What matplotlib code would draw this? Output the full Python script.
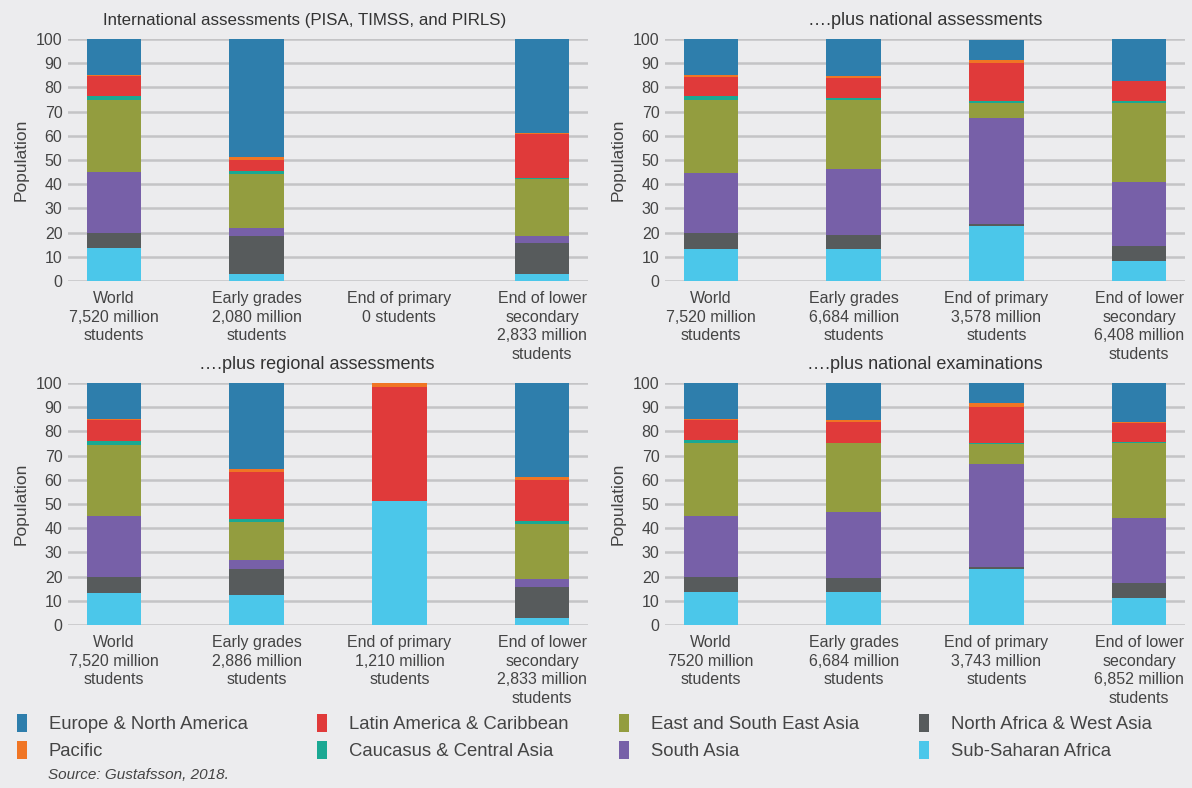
import matplotlib.pyplot as plt
from matplotlib.patches import Patch
import numpy as np

plt.rcParams['font.family'] = ['Liberation Sans', 'DejaVu Sans']

# regions, bottom of the stack first
regions = ["Sub-Saharan Africa", "North Africa & West Asia", "South Asia",
           "East and South East Asia", "Caucasus & Central Asia",
           "Latin America & Caribbean", "Pacific", "Europe & North America"]
colors = ["#4bc7ea", "#575b5c", "#7760a8", "#939d3f", "#1aa893",
          "#e03a3a", "#f07524", "#2e7eac"]

titles = ["International assessments (PISA, TIMSS, and PIRLS)",
          "\u2026.plus national assessments",
          "\u2026.plus regional assessments",
          "\u2026.plus national examinations"]

labels_intl = ["World\n7,520 million\nstudents", "Early grades\n2,080 million\nstudents",
               "End of primary\n0 students", "End of lower\nsecondary\n2,833 million\nstudents"]
labels_nat = ["World\n7,520 million\nstudents", "Early grades\n6,684 million\nstudents",
              "End of primary\n3,578 million\nstudents", "End of lower\nsecondary\n6,408 million\nstudents"]
labels_reg = ["World\n7,520 million\nstudents", "Early grades\n2,886 million\nstudents",
              "End of primary\n1,210 million\nstudents", "End of lower\nsecondary\n2,833 million\nstudents"]
labels_exam = ["World\n7520 million\nstudents", "Early grades\n6,684 million\nstudents",
               "End of primary\n3,743 million\nstudents", "End of lower\nsecondary\n6,852 million\nstudents"]

# shares (%) per category: World, Early grades, End of primary, End of lower secondary
# order of each row follows `regions`
intl = [[13.6, 6.2, 25.2, 29.8, 1.8, 8.1, 0.3, 15.0],
        [2.9, 15.7, 3.3, 22.3, 1.3, 4.5, 1.2, 48.8],
        [0, 0, 0, 0, 0, 0, 0, 0],
        [2.9, 12.8, 2.9, 23.5, 0.6, 18.0, 0.3, 39.0]]
nat = [[13.2, 6.6, 24.8, 30.2, 1.8, 7.7, 0.8, 14.9],
       [13.2, 5.8, 27.3, 28.5, 1.0, 8.1, 0.8, 15.3],
       [22.7, 0.9, 43.8, 6.2, 0.8, 15.7, 1.2, 8.3],
       [8.3, 6.2, 26.4, 32.7, 0.8, 8.2, 0.2, 17.2]]
reg = [[13.4, 6.6, 24.9, 29.4, 1.7, 8.7, 0.5, 14.8],
       [12.2, 11.1, 3.4, 15.7, 1.2, 19.5, 1.3, 35.6],
       [51.1, 0, 0, 0, 0.1, 47.2, 1.4, 0.2],
       [3.0, 12.9, 3.3, 22.4, 1.2, 17.0, 1.2, 39.0]]
exam = [[13.8, 6.2, 24.9, 30.2, 1.3, 8.3, 0.4, 14.9],
        [13.8, 5.8, 26.9, 28.6, 0.2, 8.5, 0.9, 15.3],
        [23.3, 0.5, 42.6, 8.3, 0.4, 15.0, 1.6, 8.3],
        [11.3, 6.2, 26.6, 31.0, 0.5, 7.8, 0.4, 16.2]]

bg = "#ececee"
txt = "#444444"
grid = "#c4c4c6"

fig = plt.figure(figsize=(11.92, 7.88), dpi=100, facecolor=bg)

W, H = 1192, 788
boxes = [(68, 281), (665, 281), (68, 625), (665, 625)]
title_x = [0.456, 0.5, 0.479, 0.5]
title_size = [12.2, 13, 13, 13]
panels = [(intl, labels_intl), (nat, labels_nat), (reg, labels_reg), (exam, labels_exam)]

for (x0, y0), (data, labels), title, tx, ts in zip(boxes, panels, titles, title_x, title_size):
    ax = fig.add_axes([x0 / W, 1 - y0 / H, 520 / W, 242 / H])
    ax.set_facecolor(bg)
    data = np.array(data)
    x = np.arange(len(labels))
    bottom = np.zeros(len(labels))
    for j in range(len(regions)):
        ax.bar(x, data[:, j], bottom=bottom, width=0.38, color=colors[j], zorder=3)
        bottom += data[:, j]
    ax.set_xlim(-0.32, 3.32)
    ax.set_ylim(0, 100)
    ax.set_yticks(range(0, 101, 10))
    ax.yaxis.grid(True, color=grid, linewidth=1.8, zorder=0)
    ax.set_axisbelow(True)
    for s in ax.spines.values():
        s.set_visible(False)
    ax.set_xticks(x)
    ax.set_xticklabels(labels, fontsize=11.5, color=txt, linespacing=1.32)
    ax.tick_params(axis='both', length=0, colors=txt, labelsize=11.5)
    ax.tick_params(axis='x', pad=7, labelsize=11.5)
    ax.tick_params(axis='y', pad=4)
    ax.set_ylabel("Population", fontsize=12.5, color=txt, labelpad=5)
    ax.set_title(title, fontsize=ts, color="#333333", pad=10, x=tx)

# legend, laid out in four columns of two rows
cols = [[7, 6], [5, 4], [3, 2], [1, 0]]
xs = [0.0, 0.252, 0.505, 0.757]
for cx, idx in zip(xs, cols):
    handles = [Patch(facecolor=colors[i], edgecolor='none', label=regions[i]) for i in idx]
    fig.legend(handles=handles, loc='upper left', bbox_to_anchor=(cx, 0.1152), frameon=False,
               fontsize=13.3, handlelength=0.55, handleheight=1.1, handletextpad=1.2,
               labelspacing=0.45, labelcolor=txt)

fig.text(48 / W, 1 - 775 / H, "Source: Gustafsson, 2018.", fontsize=11, style='italic',
         color=txt, va='center')

fig.savefig("out.png", dpi=100, facecolor=bg)
